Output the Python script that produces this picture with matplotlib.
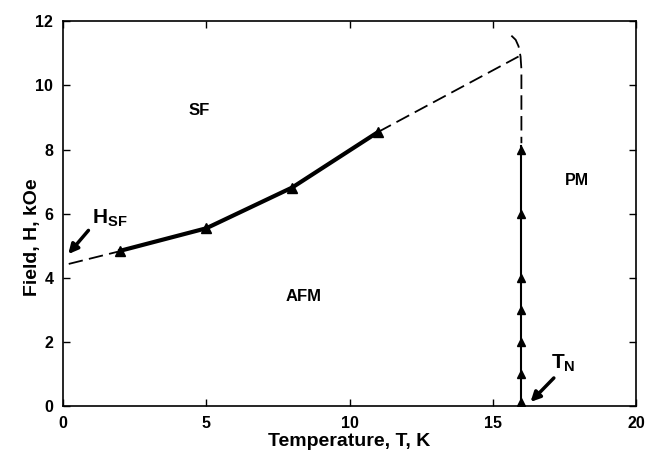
import matplotlib
matplotlib.use("Agg")
import matplotlib.pyplot as plt

# spin-flop boundary (measured points)
sf_T = [2, 5, 8, 11]
sf_H = [4.85, 5.55, 6.82, 8.55]

# dashed extrapolations of the spin-flop line
sf_low_T = [0.2, 2]
sf_low_H = [4.44, 4.84]
sf_high_T = [11, 15.9]
sf_high_H = [8.55, 10.9]

# dashed top of the Neel line, bending over near 11 kOe
top_T = [15.65, 15.8, 15.9, 15.97, 16.0, 16.0]
top_H = [11.55, 11.42, 11.22, 10.9, 10.5, 8.2]

# Neel line (measured points)
neel_T = [16, 16, 16, 16, 16, 16, 16]
neel_H = [0.15, 1.0, 2.0, 3.0, 4.0, 6.0, 8.0]

x_ticks = [0, 5, 10, 15, 20]
y_ticks = [0, 2, 4, 6, 8, 10, 12]

plt.rcParams["font.family"] = ["Liberation Sans", "DejaVu Sans"]
plt.rcParams["font.weight"] = "bold"
plt.rcParams["mathtext.fontset"] = "custom"
plt.rcParams["mathtext.bf"] = "Liberation Sans:bold"
plt.rcParams["mathtext.rm"] = "Liberation Sans:bold"

fig = plt.figure(figsize=(6.47, 4.51), dpi=100)
ax = fig.add_axes([0.0974, 0.0987, 0.8856, 0.8543])

dash = (8, 3.5)
ax.plot(sf_low_T, sf_low_H, color="black", lw=1.3, dashes=dash)
ax.plot(sf_high_T, sf_high_H, color="black", lw=1.3, dashes=dash)
ax.plot(top_T, top_H, color="black", lw=1.3, dashes=dash)
ax.plot(sf_T, sf_H, color="black", lw=3.0, marker="^", ms=7)
ax.plot([neel_T[0], neel_T[-1]], [0, neel_H[-1] + 0.1], color="black", lw=1.5)
ax.plot(neel_T, neel_H, ls="none", color="black", marker="^", ms=6)

ax.text(4.75, 9.22, "SF", fontsize=12, fontweight="bold", ha="center", va="center")
ax.text(8.4, 3.44, "AFM", fontsize=12, fontweight="bold", ha="center", va="center")
ax.text(17.95, 7.03, "PM", fontsize=11.5, fontweight="bold", ha="center", va="center")

ax.annotate("", xy=(0.12, 4.68), xytext=(0.95, 5.55),
            arrowprops=dict(arrowstyle="-|>", lw=2.5, color="black", mutation_scale=14))
ax.text(1.0, 5.85, r"$\mathbf{H_{SF}}$", fontsize=15, ha="left", va="center")

ax.annotate("", xy=(16.25, 0.08), xytext=(17.2, 0.95),
            arrowprops=dict(arrowstyle="-|>", lw=2.5, color="black", mutation_scale=14))
ax.text(17.05, 1.35, r"$\mathbf{T_{N}}$", fontsize=15, ha="left", va="center")

ax.set_xlim(0, 20)
ax.set_ylim(0, 12)
ax.set_xticks(x_ticks)
ax.set_yticks(y_ticks)
ax.tick_params(direction="in", length=5, width=1.0, top=True, right=True,
               labelsize=11.5, pad=7)
for lab in ax.get_xticklabels() + ax.get_yticklabels():
    lab.set_fontweight("bold")
for sp in ax.spines.values():
    sp.set_linewidth(1.2)

ax.set_xlabel("Temperature, T, K", fontsize=14, fontweight="bold", labelpad=1)
ax.set_ylabel("Field, H, kOe", fontsize=14, fontweight="bold")
ax.yaxis.set_label_coords(-0.038, 0.44)

fig.savefig("out.png", dpi=100)
